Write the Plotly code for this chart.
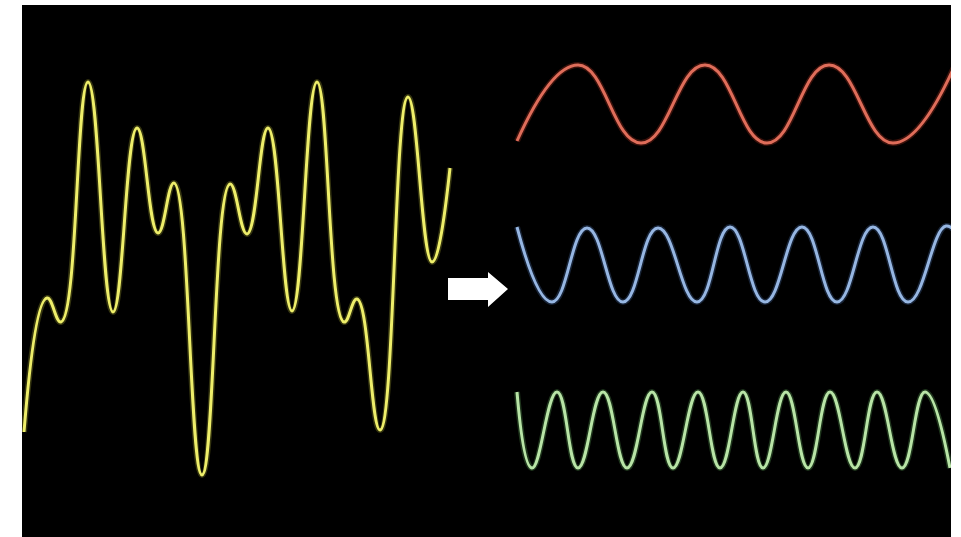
import plotly.graph_objects as go

# Composite (yellow) signal: extrema (x position, vertical level; level grows downward)
yellow_x = [24, 47, 61, 88, 113, 137, 158, 174, 202, 230, 247, 268, 292, 317, 344, 357, 380, 408, 432, 450]
yellow_y = [432, 298, 322, 82, 312, 128, 233, 183, 475, 184, 234, 128, 311, 82, 322, 299, 430, 97, 262, 168]

# Component 1 (red, lowest frequency)
red_x = [517, 578, 641, 705, 767, 829, 893, 955]
red_y = [141, 65, 143, 65, 143, 65, 143, 65]

# Component 2 (blue)
blue_x = [517, 552, 587, 623, 658, 697, 730, 765, 802, 837, 873, 908, 946, 960]
blue_y = [227, 302, 228, 302, 228, 302, 227, 302, 227, 302, 227, 302, 226, 240]

# Component 3 (green, highest frequency)
green_x = [517, 532, 557, 578, 603, 627, 652, 673, 698, 720, 743, 763, 786, 808, 830, 855, 877, 902, 925, 950]
green_y = [392, 468, 392, 468, 392, 468, 392, 468, 392, 468, 392, 468, 392, 468, 392, 468, 392, 468, 392, 468]

series = [
    (yellow_x, yellow_y, "#eeee6a", "rgba(235,235,70,0.22)"),
    (red_x, red_y, "#df6d5a", "rgba(210,60,40,0.28)"),
    (blue_x, blue_y, "#96b6e2", "rgba(90,140,215,0.25)"),
    (green_x, green_y, "#b8e4a6", "rgba(120,210,110,0.25)"),
]

fig = go.Figure()
for xs, ys, core, glow in series:
    fig.add_trace(go.Scatter(x=xs, y=ys, mode="lines",
                             line=dict(color=glow, width=6, shape="spline", smoothing=1.3),
                             hoverinfo="skip", showlegend=False))
    fig.add_trace(go.Scatter(x=xs, y=ys, mode="lines",
                             line=dict(color=core, width=3, shape="spline", smoothing=1.3),
                             hoverinfo="skip", showlegend=False))

# white arrow between the composite signal and its components
fig.add_shape(type="path",
              path="M 448 278 L 488 278 L 488 272 L 508 289 L 488 307 L 488 300 L 448 300 Z",
              xref="x", yref="y", fillcolor="white", line=dict(color="white", width=0))

fig.update_layout(
    width=961, height=537,
    margin=dict(l=22, r=10, t=5, b=0),
    paper_bgcolor="white",
    plot_bgcolor="black",
    xaxis=dict(range=[22, 951], visible=False, showgrid=False, zeroline=False),
    yaxis=dict(range=[537, 5], visible=False, showgrid=False, zeroline=False),
    showlegend=False,
)

fig.write_html("out.html", config={"displayModeBar": False, "staticPlot": True},
               post_script="document.body.style.margin='0';document.body.style.overflow='hidden';")
